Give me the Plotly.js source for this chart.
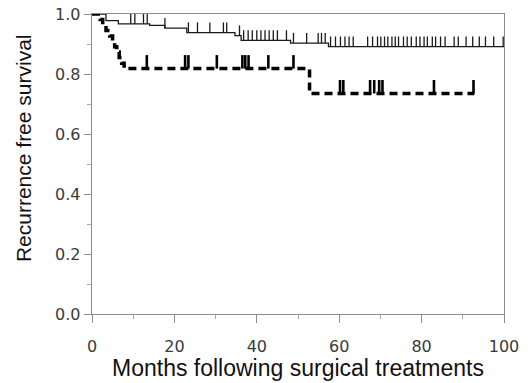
<!DOCTYPE html>
<html>
<head>
<meta charset="utf-8">
<script src="https://cdn.plot.ly/plotly-3.0.1.min.js"></script>
<style>html,body{margin:0;padding:0;background:#fff;}#chart{width:530px;height:383px;}</style>
</head>
<body>
<div id="chart"></div>
<script>
// Group 1 (solid): Kaplan-Meier step times and survival
const solidTimes = [0, 3.4, 6.4, 14.0, 17.7, 23.0, 34.7, 36.2, 48.2, 57.4];
const solidSurv  = [1.0, 0.978, 0.967, 0.962, 0.953, 0.938, 0.928, 0.912, 0.903, 0.891];
const solidEnd = 100;
const solidCensor = [9.4, 10.4, 12.5, 13.4, 17.7, 23.4, 25.6, 28.6, 31.9, 32.7, 35.8, 36.8,
  37.9, 38.9, 40.0, 41.0, 42.0, 43.0, 44.0, 45.0, 47.2, 48.9, 52.1, 54.9, 55.7, 56.6,
  57.9, 59.1, 60.3, 61.4, 62.4, 63.4, 66.9, 68.1, 69.3, 70.1, 71.0, 71.8, 72.8, 73.6,
  74.4, 75.6, 76.5, 77.5, 78.7, 79.6, 80.6, 81.4, 82.6, 83.4, 84.6, 85.7, 87.9, 88.9,
  90.8, 92.4, 94.0, 95.5, 97.5, 99.8];

// Group 2 (dashed)
const dashTimes = [0, 2.0, 2.6, 3.4, 4.3, 5.0, 5.5, 6.0, 6.6, 7.2, 7.8, 52.8];
const dashSurv  = [1.0, 0.982, 0.964, 0.945, 0.927, 0.909, 0.891, 0.873, 0.855, 0.836, 0.818, 0.735];
const dashEnd = 92.8;
const dashCensor = [13.3, 22.6, 23.4, 30.3, 36.5, 37.2, 38.0, 42.8, 48.9, 60.2, 61.0,
  67.5, 68.5, 69.7, 70.5, 83.0, 92.6];

const xTicks = [0, 20, 40, 60, 80, 100];
const yTicks = [0.0, 0.2, 0.4, 0.6, 0.8, 1.0];
const yTickLabels = ['0.0', '0.2', '0.4', '0.6', '0.8', '1.0'];
const xTitle = 'Months following surgical treatments';
const yTitle = 'Recurrence free survival';

function survAt(times, surv, t) {
  let s = surv[0];
  for (let i = 0; i < times.length; i++) { if (times[i] <= t) s = surv[i]; }
  return s;
}

const traces = [
  {x: solidTimes.concat([solidEnd]), y: solidSurv.concat([solidSurv[solidSurv.length-1]]),
   mode: 'lines', line: {shape: 'hv', color: '#1a1a1a', width: 1.3}, hoverinfo: 'skip'},
  {x: solidCensor, y: solidCensor.map(t => survAt(solidTimes, solidSurv, t)),
   mode: 'markers', marker: {size: 1, opacity: 0},
   error_y: {type: 'data', symmetric: false, array: solidCensor.map(() => 0.034),
             arrayminus: solidCensor.map(() => 0), width: 0, thickness: 1.3, color: '#1a1a1a'}},
  {x: dashTimes.concat([dashEnd]), y: dashSurv.concat([dashSurv[dashSurv.length-1]]),
   mode: 'lines', line: {shape: 'hv', color: '#000', width: 3.5, dash: '8px,5px'}, hoverinfo: 'skip'},
  {x: dashCensor, y: dashCensor.map(t => survAt(dashTimes, dashSurv, t)),
   mode: 'markers', marker: {size: 1, opacity: 0},
   error_y: {type: 'data', symmetric: false, array: dashCensor.map(() => 0.045),
             arrayminus: dashCensor.map(() => 0), width: 0, thickness: 2.6, color: '#000'}}
];

const layout = {
  width: 530, height: 383,
  margin: {l: 92, r: 26, t: 14, b: 69},
  paper_bgcolor: '#fff', plot_bgcolor: '#fff',
  showlegend: false,
  xaxis: {
    range: [0, 100], tickvals: xTicks, ticktext: xTicks.map(String),
    showgrid: false, zeroline: false, showline: true, mirror: true, linecolor: '#8c8c8c', linewidth: 1.3,
    ticks: 'outside', ticklen: 8, tickcolor: '#8c8c8c', tickwidth: 1,
    minor: {dtick: 10, ticks: 'outside', ticklen: 4, tickcolor: '#aaa', showgrid: false},
    ticklabelstandoff: 9,
    tickfont: {family: 'DejaVu Sans', size: 16, color: '#3a3a3a'},
    title: {text: xTitle, font: {family: 'Liberation Sans', size: 23, color: '#111'}, standoff: 3}
  },
  yaxis: {
    range: [0, 1.0], tickvals: yTicks, ticktext: yTickLabels,
    showgrid: false, zeroline: false, showline: true, mirror: true, linecolor: '#8c8c8c', linewidth: 1.3,
    ticks: 'outside', ticklen: 7, tickcolor: '#8c8c8c', tickwidth: 1,
    minor: {dtick: 0.1, ticks: 'outside', ticklen: 4, tickcolor: '#aaa', showgrid: false},
    tickfont: {family: 'DejaVu Sans', size: 16, color: '#3a3a3a'}
  },
  annotations: [{
    text: yTitle, xref: 'paper', yref: 'paper', x: -0.1675, y: 0.553,
    xanchor: 'center', yanchor: 'middle', textangle: -90, showarrow: false,
    font: {family: 'Liberation Sans', size: 21, color: '#111'}
  }]
};

Plotly.newPlot('chart', traces, layout, {displayModeBar: false, staticPlot: true});
</script>
</body>
</html>
